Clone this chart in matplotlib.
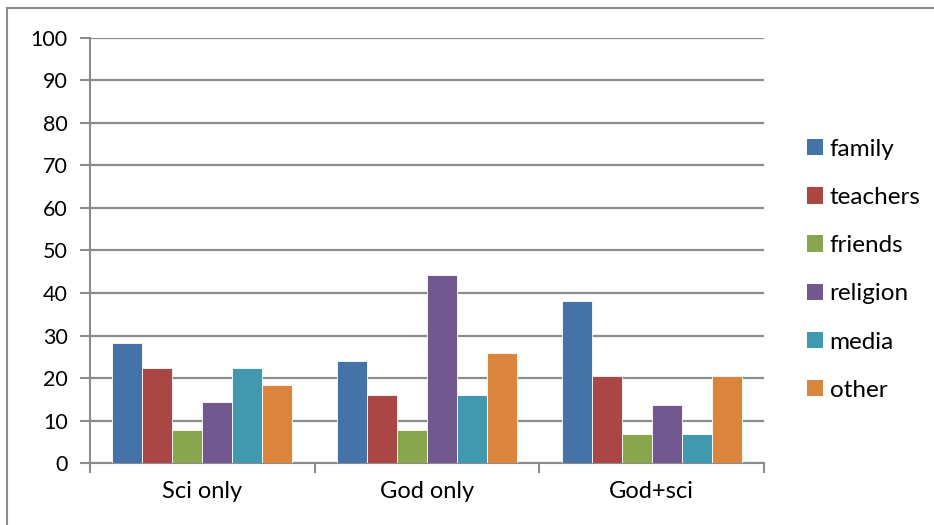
import matplotlib
matplotlib.use("Agg")
import matplotlib.pyplot as plt
from matplotlib.lines import Line2D
from matplotlib.patches import Patch
import numpy as np

categories = ["Sci only", "God only", "God+sci"]
series_names = ["family", "teachers", "friends", "religion", "media", "other"]
family = [28.2, 24.0, 38.0]
teachers = [22.3, 16.1, 20.6]
friends = [7.8, 7.9, 6.9]
religion = [14.5, 44.2, 13.8]
media = [22.3, 16.1, 6.9]
other = [18.5, 26.0, 20.6]
yticks = [0, 10, 20, 30, 40, 50, 60, 70, 80, 90, 100]

colors = ["#4572A7", "#AA4643", "#89A54E", "#71588F", "#4198AF", "#DB843D"]
values = [family, teachers, friends, religion, media, other]

plt.rcParams["font.family"] = ["Lato", "DejaVu Sans"]

W, H = 934, 525
fig = plt.figure(figsize=(W / 100, H / 100), dpi=100)
fig.patch.set_facecolor("white")

# outer chart frame (left and top edges)
fx, fy = 7 / W, 1 - 8 / H
fig.add_artist(Line2D([fx, fx], [0, fy], transform=fig.transFigure,
                      color="#8c8c8c", linewidth=1.5))
fig.add_artist(Line2D([fx, 1], [fy, fy], transform=fig.transFigure,
                      color="#8c8c8c", linewidth=1.5))

left, right, top, bottom = 90, 764, 37.5, 463.3
ax = fig.add_axes([left / W, 1 - bottom / H, (right - left) / W, (bottom - top) / H])

n = len(series_names)
bw = 0.8 / n
x = np.arange(len(categories))
for i, (name, vals, c) in enumerate(zip(series_names, values, colors)):
    ax.bar(x - 0.4 + bw * (i + 0.5), vals, width=bw, color=c, label=name,
           edgecolor="#ffffff", linewidth=0.6, zorder=3)

ax.set_xlim(-0.5, len(categories) - 0.5)
ax.set_ylim(0, 100)
ax.set_yticks(yticks)
ax.set_yticklabels([str(t) for t in yticks], fontsize=15.5)
ax.yaxis.grid(True, color="#8c8c8c", linewidth=1.6, zorder=0)
ax.set_axisbelow(True)

# category boundaries as major ticks, labels centred via minor ticks
ax.set_xticks(np.arange(len(categories) + 1) - 0.5)
ax.set_xticklabels([])
ax.set_xticks(x, minor=True)
ax.set_xticklabels(categories, minor=True, fontsize=17)
ax.tick_params(axis="x", which="major", length=7, width=1.5, color="#8c8c8c")
ax.tick_params(axis="x", which="minor", length=0, pad=13)
ax.tick_params(axis="y", length=7, width=1.5, color="#8c8c8c", pad=9)

for s in ["top", "right"]:
    ax.spines[s].set_visible(False)
for s in ["left", "bottom"]:
    ax.spines[s].set_color("#8c8c8c")
    ax.spines[s].set_linewidth(1.5)

handles = [Patch(facecolor=c, edgecolor="none") for c in colors]
fig.legend(handles, series_names, loc="upper left",
           bbox_to_anchor=(797 / W, 1 - 129 / H), frameon=False, fontsize=17.5,
           handlelength=0.66, handleheight=0.66, handletextpad=0.28,
           labelspacing=1.12, borderaxespad=0)

fig.savefig("out.png", dpi=100)
